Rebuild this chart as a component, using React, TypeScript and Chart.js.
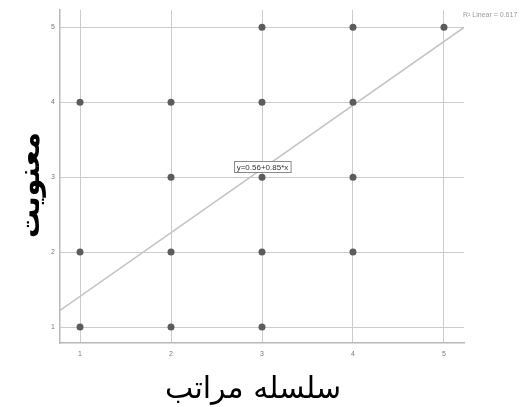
import React, { useEffect, useRef } from "react";
import { Chart, registerables } from "chart.js";

Chart.register(...registerables);

// Observed points (x = سلسله مراتب, y = معنویت)
const xValues = [1, 1, 1, 2, 2, 2, 2, 3, 3, 3, 3, 3, 4, 4, 4, 4, 5];
const yValues = [4, 2, 1, 4, 3, 2, 1, 5, 4, 3, 2, 1, 5, 4, 3, 2, 5];
const tickValues = [1, 2, 3, 4, 5];

// Fit line shown in the chart
const intercept = 0.56;
const slope = 0.85;
const rSquaredLabel = "R² Linear = 0.617";
const labelAtX = 3;

const xTitle = "سلسله مراتب";
const yTitle = "معنویت";

const xMin = 0.78;
const xMax = 5.22;
const yMin = 0.787;
const yMax = 5.23;

const annotations = {
  id: "annotations",
  afterDatasetsDraw(chart: any) {
    const { ctx, chartArea, scales } = chart;
    const xs = scales.x;
    const ys = scales.y;
    ctx.save();

    // equation label box on the fit line
    const ex = xs.getPixelForValue(labelAtX);
    const ey = ys.getPixelForValue(intercept + slope * labelAtX);
    const eq = `y=${intercept}+${slope}*x`;
    ctx.font = '8px "Liberation Sans", "DejaVu Sans", sans-serif';
    const w = ctx.measureText(eq).width + 5;
    const h = 11;
    ctx.fillStyle = "#ffffff";
    ctx.fillRect(Math.round(ex - w / 2) + 0.5, Math.round(ey - h / 2) - 1.5, w, h);
    ctx.strokeStyle = "#8a8a8a";
    ctx.lineWidth = 1;
    ctx.strokeRect(Math.round(ex - w / 2) + 0.5, Math.round(ey - h / 2) - 1.5, w, h);
    ctx.fillStyle = "#333333";
    ctx.textAlign = "center";
    ctx.textBaseline = "middle";
    ctx.fillText(eq, ex + 0.5, ey - 1);

    // R² label
    ctx.font = '7px "Liberation Sans", "DejaVu Sans", sans-serif';
    ctx.fillStyle = "#9a9a9a";
    ctx.textAlign = "left";
    ctx.textBaseline = "middle";
    ctx.fillText(rSquaredLabel, chartArea.right - 1, chartArea.top + 5);

    // axis titles
    ctx.fillStyle = "#000000";
    ctx.textAlign = "center";
    ctx.textBaseline = "middle";
    ctx.font = '30px "DejaVu Sans", sans-serif';
    ctx.fillText(xTitle, 253, 390);

    ctx.save();
    ctx.translate(31, 185);
    ctx.rotate(-Math.PI / 2);
    ctx.font = 'bold 29px "DejaVu Sans", sans-serif';
    ctx.fillText(yTitle, 0, 0);
    ctx.restore();

    ctx.restore();
  },
};

export default function App() {
  const canvasRef = useRef<HTMLCanvasElement | null>(null);

  useEffect(() => {
    if (!canvasRef.current) return;
    const points = xValues.map((x, i) => ({ x, y: yValues[i] }));
    const fitLine = [
      { x: xMin, y: intercept + slope * xMin },
      { x: xMax, y: intercept + slope * xMax },
    ];
    const tickFont = { family: '"Liberation Sans", "DejaVu Sans", sans-serif', size: 7 };
    const chart = new Chart(canvasRef.current, {
      type: "scatter",
      data: {
        datasets: [
          {
            label: "points",
            data: points,
            backgroundColor: "#5c5c5c",
            borderColor: "#5c5c5c",
            pointRadius: 3.5,
            borderWidth: 0,
            order: 1,
          },
          {
            label: "fit",
            data: fitLine,
            showLine: true,
            borderColor: "#c4c4c4",
            borderWidth: 1.5,
            pointRadius: 0,
            order: 2,
          } as any,
        ],
      },
      plugins: [annotations],
      options: {
        responsive: false,
        animation: false,
        layout: { padding: { left: 0, top: 10, right: 57, bottom: 0 } },
        plugins: {
          legend: { display: false },
          tooltip: { enabled: false },
          title: { display: false },
        },
        scales: {
          x: {
            type: "linear",
            min: xMin,
            max: xMax,
            afterBuildTicks: (s: any) => {
              s.ticks = tickValues.map((v) => ({ value: v }));
            },
            afterFit: (s: any) => {
              s.height = 64;
            },
            grid: { color: "#cccccc", lineWidth: 1, drawTicks: false },
            border: { color: "#b8b8b8", width: 1.5 },
            ticks: { font: tickFont, color: "#7a7a7a", padding: 7 },
          },
          y: {
            type: "linear",
            min: yMin,
            max: yMax,
            afterBuildTicks: (s: any) => {
              s.ticks = tickValues.map((v) => ({ value: v }));
            },
            afterFit: (s: any) => {
              s.width = 60;
            },
            grid: { color: "#cccccc", lineWidth: 1, drawTicks: false },
            border: { color: "#b8b8b8", width: 1.5 },
            ticks: { font: tickFont, color: "#7a7a7a", padding: 5 },
          },
        },
      },
    });
    return () => chart.destroy();
  }, []);

  return (
    <canvas
      ref={canvasRef}
      width={521}
      height={407}
      style={{ position: "fixed", left: 0, top: 0, display: "block", background: "#ffffff" }}
    />
  );
}
